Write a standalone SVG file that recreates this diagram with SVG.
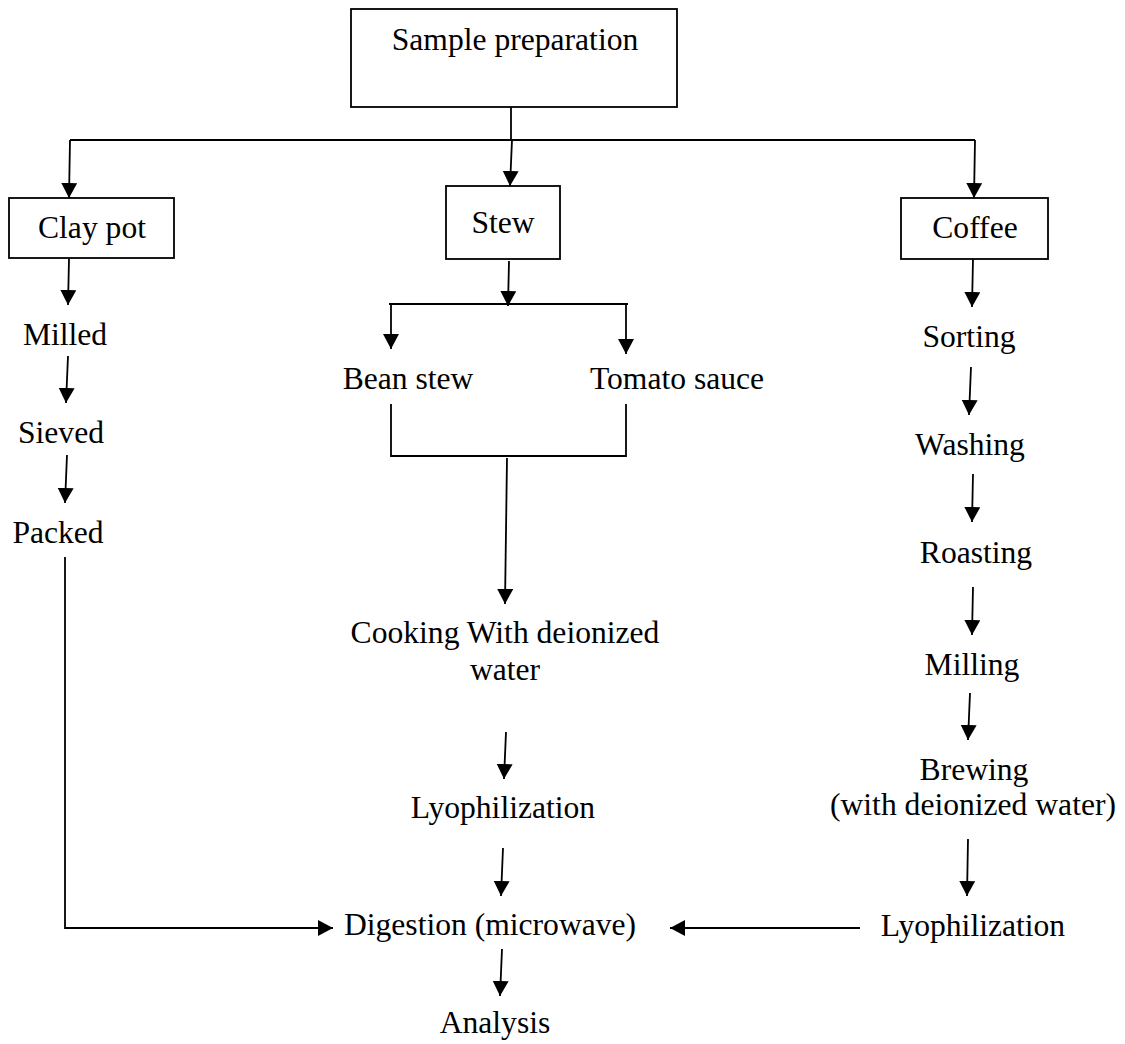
<svg xmlns="http://www.w3.org/2000/svg" width="1125" height="1044" viewBox="0 0 1125 1044">
<style>
text{font-family:"Liberation Serif","Times New Roman",serif;font-size:31.6px;fill:#000;text-anchor:middle}
.box{fill:#fff;stroke:#000;stroke-width:1.8}
.ln{fill:none;stroke:#000;stroke-width:1.8}
.ar{fill:none;stroke:#000;stroke-width:1.8;marker-end:url(#ah)}
</style>
<defs>
<marker id="ah" markerUnits="userSpaceOnUse" markerWidth="16" markerHeight="17" refX="15" refY="8" orient="auto" viewBox="0 0 16 17">
<path d="M0,0 L15,8 L0,16 z" fill="#000"/>
</marker>
</defs>
<rect width="1125" height="1044" fill="#fff"/>
<g id="connectors">
<polyline class="ln" points="511,107 511,140"/>
<polyline class="ln" points="70,140 975,140"/>
<line class="ar" x1="70" y1="140" x2="69" y2="198"/>
<line class="ar" x1="512" y1="140" x2="510" y2="186"/>
<line class="ar" x1="975" y1="140" x2="974" y2="198"/>
<line class="ar" x1="69" y1="259" x2="68" y2="305"/>
<line class="ar" x1="68" y1="356" x2="66" y2="403"/>
<line class="ar" x1="67" y1="455" x2="65" y2="503"/>
<polyline class="ar" points="65,557 65,928 333,928"/>
<line class="ar" x1="509" y1="261" x2="508" y2="306"/>
<polyline class="ln" points="389,304 628,304"/>
<line class="ar" x1="391" y1="304" x2="391" y2="349"/>
<line class="ar" x1="626" y1="305" x2="626" y2="354"/>
<polyline class="ln" points="391,404 391,456 626,456 626,404"/>
<line class="ar" x1="507" y1="458" x2="505" y2="604"/>
<line class="ar" x1="506" y1="732" x2="504" y2="779"/>
<line class="ar" x1="503" y1="848" x2="501" y2="896"/>
<line class="ar" x1="502" y1="949" x2="500" y2="996"/>
<line class="ar" x1="973" y1="259" x2="972" y2="307"/>
<line class="ar" x1="971" y1="367" x2="969" y2="415"/>
<line class="ar" x1="973" y1="474" x2="972" y2="522"/>
<line class="ar" x1="973" y1="587" x2="972" y2="635"/>
<line class="ar" x1="970" y1="693" x2="968" y2="740"/>
<line class="ar" x1="968" y1="839" x2="967" y2="896"/>
<line class="ar" x1="860" y1="928" x2="670" y2="928"/>
</g>
<g id="sample-preparation"><rect class="box" x="351" y="9" width="326" height="98"/><text x="515" y="50">Sample preparation</text></g>
<g id="clay-pot"><rect class="box" x="9" y="198" width="165" height="60"/><text x="92" y="238">Clay pot</text></g>
<g id="stew"><rect class="box" x="446" y="186" width="114" height="73"/><text x="503" y="233">Stew</text></g>
<g id="coffee"><rect class="box" x="901" y="198" width="147" height="61"/><text x="975" y="238">Coffee</text></g>
<g id="milled"><text x="65" y="345">Milled</text></g>
<g id="sieved"><text x="61" y="443">Sieved</text></g>
<g id="packed"><text x="58" y="543">Packed</text></g>
<g id="bean-stew"><text x="408" y="389">Bean stew</text></g>
<g id="tomato-sauce"><text x="677" y="389">Tomato sauce</text></g>
<g id="cooking"><text x="505" y="643">Cooking With deionized</text><text x="505" y="680">water</text></g>
<g id="lyophilization-1"><text x="503" y="818">Lyophilization</text></g>
<g id="digestion"><text x="490" y="935">Digestion (microwave)</text></g>
<g id="analysis"><text x="495" y="1033">Analysis</text></g>
<g id="sorting"><text x="969" y="347">Sorting</text></g>
<g id="washing"><text x="970" y="455">Washing</text></g>
<g id="roasting"><text x="976" y="563">Roasting</text></g>
<g id="milling"><text x="972" y="675">Milling</text></g>
<g id="brewing"><text x="974" y="780">Brewing</text><text x="973" y="815">(with deionized water)</text></g>
<g id="lyophilization-2"><text x="973" y="936">Lyophilization</text></g>
</svg>
